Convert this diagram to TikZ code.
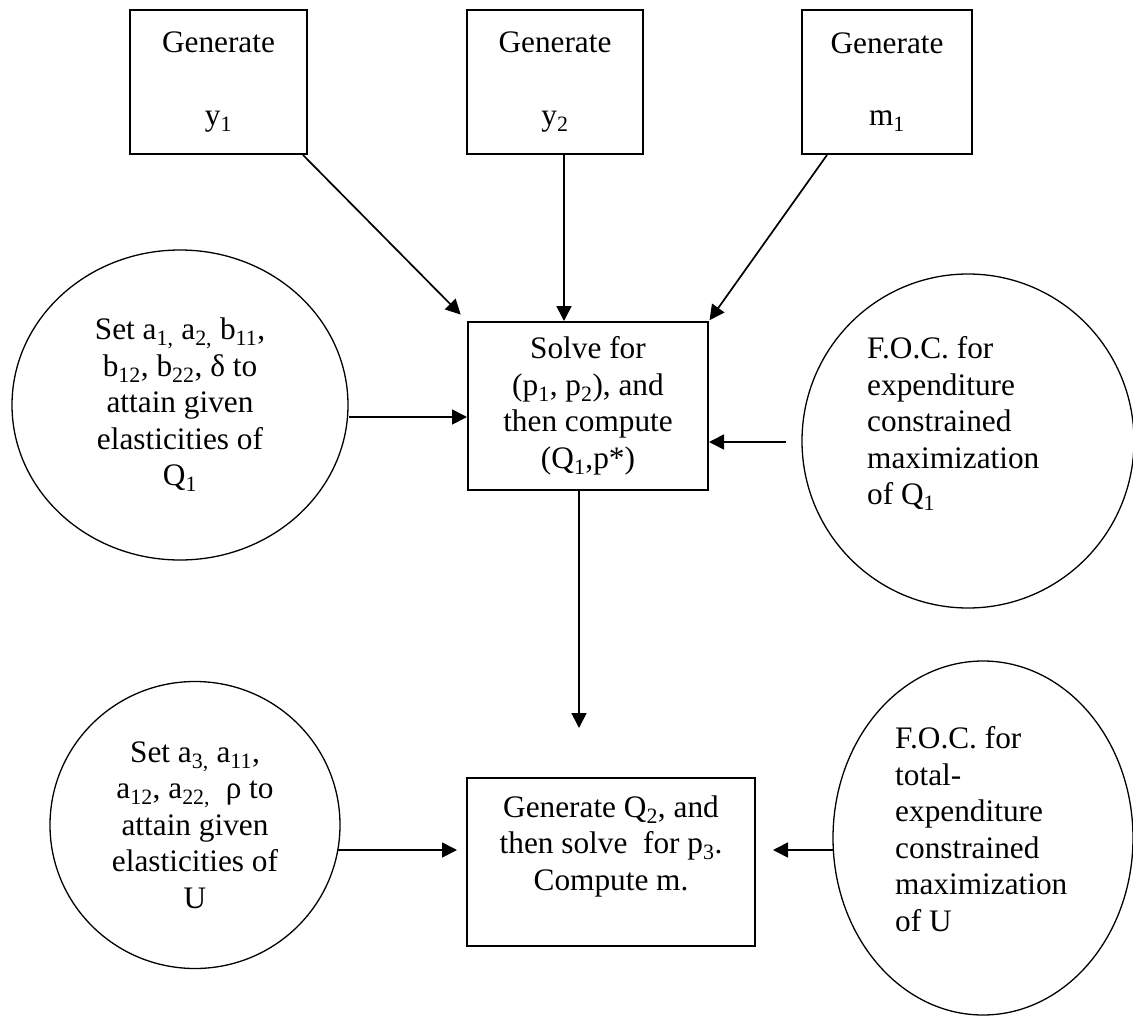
\documentclass[tikz,border=0pt]{standalone}
\usepackage{fontspec}
\setmainfont{Liberation Serif}
\usetikzlibrary{arrows.meta,calc,shapes.geometric}
\newcommand\lo[1]{\textsubscript{#1}}
\begin{document}
\begin{tikzpicture}[x=1pt,y=-1pt,
  font=\fontsize{31.3}{36.5}\selectfont,
  box/.style={draw,line width=2pt,inner sep=0pt,align=center},
  oval/.style={draw,ellipse,line width=1.3pt,inner sep=0pt,align=center},
  txt/.style={inner sep=0pt,align=left},
  arr/.style={line width=1.7pt,-{Triangle[length=15pt,width=15pt]}},
]
\useasboundingbox (0,0) rectangle (1133,1017);

% top boxes
\node[box,minimum width=177pt,minimum height=144pt] (g1) at (218.5,82) {Generate\\[36pt]y\lo{1}};
\node[box,minimum width=176pt,minimum height=144pt] (g2) at (555,82) {Generate\\[36pt]y\lo{2}};
\node[box,minimum width=170pt,minimum height=144pt] (g3) at (887,82) {Generate\\[36pt]m\lo{1}};

% main box
\node[box,minimum width=240pt,minimum height=168pt] (main) at (588,406)
  {Solve for\\(p\lo{1}, p\lo{2}), and\\then compute\\(Q\lo{1},p*)};

% bottom box
\node[box,minimum width=288pt,minimum height=168pt] (bot) at (611,862) {};
\node[txt,align=center,anchor=north] (bottxt) at (611,795.5)
  {Generate Q\lo{2}, and\\then solve\ \ for p\lo{3}.\\Compute m.};

% ellipses
\node[oval,minimum width=336pt,minimum height=310pt] (e1) at (180,405)
  {Set a\lo{1,} a\lo{2,} b\lo{11},\\b\lo{12}, b\lo{22}, δ to\\attain given\\elasticities of\\Q\lo{1}};
\node[oval,minimum width=332pt,minimum height=334pt] (e2) at (968,441) {};
\node[txt,anchor=north west] (e2t) at (867,336.6)
  {F.O.C. for\\expenditure\\constrained\\maximization\\of Q\lo{1}};
\node[oval,minimum width=290pt,minimum height=287pt] (e3) at (195,825)
  {Set a\lo{3,} a\lo{11},\\a\lo{12}, a\lo{22,}\ \ ρ to\\attain given\\elasticities of\\U};
\node[oval,minimum width=300pt,minimum height=354pt] (e4) at (983,838) {};
\node[txt,anchor=north west] (e4t) at (895,726.6)
  {F.O.C. for\\total-\\expenditure\\constrained\\maximization\\of U};

% connectors
\draw[arr,shorten >=9pt] ($(g1.south east)+(-5,0)$) -- (main.north west);
\draw[arr] ($(g2.south)+(9,0)$) -- ($(main.north)+(-24,0)$);
\draw[arr,shorten >=1pt] ($(g3.south west)+(26,0)$) -- (main.north east);
\draw[arr] ($(e1.east)+(0,12)$) -- ($(main.west)+(0,11)$);
\draw[arr] ($(e2.west)+(-15,1)$) -- ($(main.east)+(0,36)$);
\coordinate (dn) at (579,728);
\draw[arr] ($(main.south)+(-9,0)$) -- (dn);
\draw[arr] ($(e3.east)+(-3,25)$) -- ($(bot.west)+(-9,-12)$);
\draw[arr] ($(e4.west)+(2,12)$) -- ($(bot.east)+(17,-12)$);
\end{tikzpicture}
\end{document}
